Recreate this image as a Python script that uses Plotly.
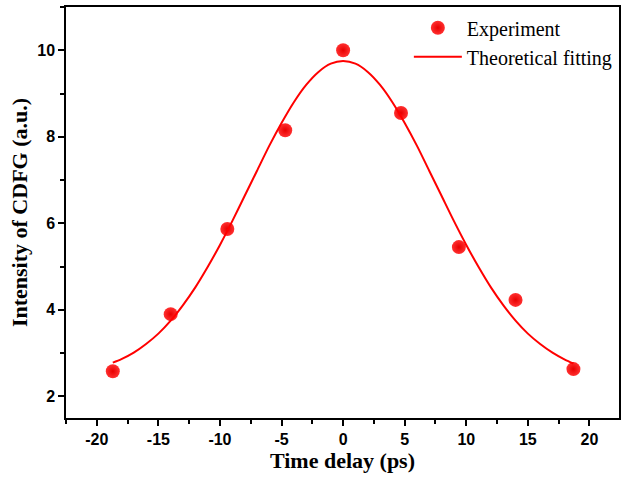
import plotly.graph_objects as go

# Experimental data
exp_x = [-18.7, -14.0, -9.4, -4.7, 0.0, 4.7, 9.4, 14.0, 18.7]
exp_y = [2.58, 3.90, 5.87, 8.15, 10.0, 8.55, 5.45, 4.23, 2.63]

# Theoretical fitting curve
fit_x = [-18.7, -18, -17, -16, -15, -14, -13, -12, -11, -10, -9, -8, -7, -6, -5, -4, -3, -2, -1,
         0, 1, 2, 3, 4, 5, 6, 7, 8, 9, 10, 11, 12, 13, 14, 15, 16, 17, 18, 18.7]
fit_y = [2.78, 2.86, 3.01, 3.21, 3.45, 3.75, 4.11, 4.52, 4.99, 5.50, 6.05, 6.63, 7.21, 7.79, 8.32,
         8.80, 9.20, 9.50, 9.69, 9.75, 9.69, 9.50, 9.20, 8.80, 8.32, 7.79, 7.21, 6.63, 6.05, 5.50,
         4.99, 4.52, 4.11, 3.75, 3.45, 3.21, 3.01, 2.85, 2.76]

x_ticks = [-20, -15, -10, -5, 0, 5, 10, 15, 20]
x_tick_text = ["-20", "-15", "-10", "-5", "0", "5", "10", "15", "20"]
y_ticks = [2, 4, 6, 8, 10]

fig = go.Figure()
fig.add_trace(go.Scatter(
    x=exp_x, y=exp_y, mode="markers", name="Experiment",
    marker=dict(size=14, color="#ff3030",
                gradient=dict(type="radial", color="#e80000"),
                line=dict(width=0)),
))
fig.add_trace(go.Scatter(
    x=fit_x, y=fit_y, mode="lines", name="Theoretical fitting",
    line=dict(color="#ff0000", width=2, shape="spline", smoothing=0.8),
))

axis_common = dict(
    showline=True, linecolor="black", linewidth=1.5, mirror=True,
    ticks="outside", ticklen=6, tickwidth=1.5, tickcolor="black",
    showgrid=False, zeroline=False,
    tickfont=dict(family="Liberation Sans, Arial", size=16, color="black", weight="bold"),
)

fig.update_xaxes(
    range=[-22.5, 22.4], tickvals=x_ticks, ticktext=x_tick_text,
    minor=dict(ticks="outside", ticklen=4, tickwidth=1.5, tickcolor="black", dtick=2.5, tick0=-22.5),
    title=dict(text="<b>Time delay (ps)</b>",
               font=dict(family="Liberation Serif, Times New Roman", size=22, color="black"),
               standoff=4),
    **axis_common,
)
fig.update_yaxes(
    range=[1.5, 11.0], tickvals=y_ticks,
    minor=dict(ticks="outside", ticklen=4, tickwidth=1.5, tickcolor="black", dtick=1, tick0=1),
    title=dict(text="<b>Intensity of CDFG (a.u.)</b>",
               font=dict(family="Liberation Serif, Times New Roman", size=22, color="black"),
               standoff=4),
    **axis_common,
)

fig.update_layout(
    width=624, height=479,
    margin=dict(l=66, r=3, t=7, b=61),
    plot_bgcolor="white", paper_bgcolor="white",
    showlegend=True,
    legend=dict(x=0.62, y=0.997, xanchor="left", yanchor="top",
                bgcolor="rgba(0,0,0,0)",
                font=dict(family="Liberation Serif, Times New Roman", size=20, color="black"),
                itemwidth=48, tracegroupgap=0),
)

fig.write_html("out.html")
